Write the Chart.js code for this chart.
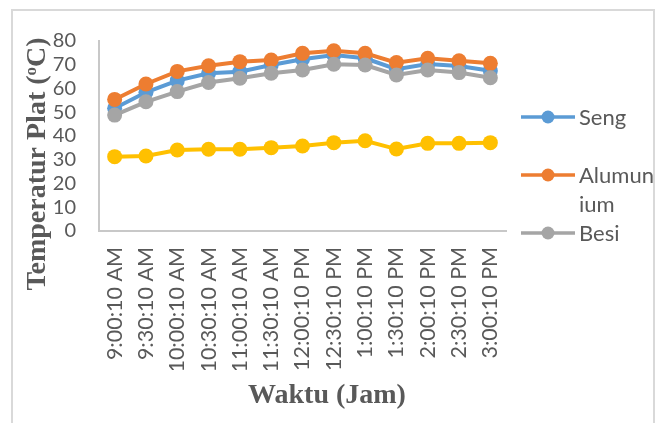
<!DOCTYPE html>
<html>
<head>
<meta charset="utf-8">
<script src="https://cdn.jsdelivr.net/npm/chart.js@4/dist/chart.umd.min.js"></script>
<style>
  html, body { margin: 0; padding: 0; background: #ffffff; }
  #wrap { position: relative; width: 666px; height: 423px; overflow: hidden; }
  #frame { position: absolute; left: 11px; top: 9px; width: 644px; height: 440px;
           border: 2px solid #d9d9d9; box-sizing: border-box; }
  canvas { position: absolute; left: 0; top: 0; }
</style>
</head>
<body>
<div id="wrap">
  <div id="frame"></div>
  <canvas id="c" width="666" height="423"></canvas>
</div>
<script>
// Sampling times (every 30 minutes)
const waktu = ['9:00:10 AM', '9:30:10 AM', '10:00:10 AM', '10:30:10 AM', '11:00:10 AM',
  '11:30:10 AM', '12:00:10 PM', '12:30:10 PM', '1:00:10 PM', '1:30:10 PM',
  '2:00:10 PM', '2:30:10 PM', '3:00:10 PM'];

// Plate temperatures (°C)
const seng      = [51.7, 58.4, 63.3, 66.4, 67.1, 69.9, 72.3, 74.1, 72.7, 68.1, 70.3, 69.5, 67.5];
const alumunium = [55.4, 61.9, 67.2, 69.6, 71.3, 72.0, 74.8, 75.9, 74.8, 70.9, 72.7, 71.7, 70.6];
const besi      = [48.8, 54.4, 58.7, 62.5, 64.3, 66.4, 67.8, 70.2, 69.9, 65.7, 67.8, 66.7, 64.5];
const lingkungan = [31.3, 31.6, 34.1, 34.4, 34.4, 35.1, 35.8, 37.2, 38.0, 34.5, 36.9, 36.9, 37.2];

// Y axis tick values
const yTicks = [0, 10, 20, 30, 40, 50, 60, 70, 80];

const TEXT = '#595959';
const AXIS = '#c8c8c8';

function series(label, data, color, order) {
  return {
    label, data, order,
    borderColor: color, backgroundColor: color,
    pointBackgroundColor: color, pointBorderColor: color,
    borderWidth: 4, pointRadius: 7.5, pointHoverRadius: 7.5, pointBorderWidth: 0,
    tension: 0, fill: false
  };
}

// Clip x tick labels to the text box below the axis
const labelClip = {
  id: 'labelClip',
  beforeDraw(chart) {
    const ctx = chart.ctx;
    ctx.save();
    ctx.beginPath();
    ctx.rect(0, 0, chart.width, 370);
    ctx.clip();
  },
  beforeDatasetsDraw(chart) {
    chart.ctx.restore();
  }
};

// Axis titles and the side legend
const decorations = {
  id: 'decorations',
  afterDraw(chart) {
    const ctx = chart.ctx;
    ctx.save();
    ctx.fillStyle = TEXT;

    // X title
    ctx.font = 'bold 28px "Liberation Serif"';
    ctx.textAlign = 'center';
    ctx.textBaseline = 'middle';
    ctx.fillText('Waktu (Jam)', 327, 396);

    // Y title, rotated, with superscript degree "o"
    const big = 'bold 28px "Liberation Serif"';
    const small = 'bold 17px "Liberation Serif"';
    const p1 = 'Temperatur Plat (', p2 = 'o', p3 = 'C)';
    ctx.font = big;
    const w1 = ctx.measureText(p1).width, w3 = ctx.measureText(p3).width;
    ctx.font = small;
    const w2 = ctx.measureText(p2).width;
    const total = w1 + w2 + w3;
    ctx.translate(45, 164);
    ctx.rotate(-Math.PI / 2);
    ctx.textAlign = 'left';
    ctx.textBaseline = 'alphabetic';
    let x = -total / 2;
    ctx.font = big; ctx.fillText(p1, x, 0); x += w1;
    ctx.font = small; ctx.fillText(p2, x, -9); x += w2;
    ctx.font = big; ctx.fillText(p3, x, 0);
    ctx.restore();

    // Legend
    ctx.save();
    ctx.font = '22px Lato';
    ctx.textAlign = 'left';
    ctx.textBaseline = 'middle';
    const entries = [
      { ds: 0, lines: ['Seng'], y: 117 },
      { ds: 1, lines: ['Alumun', 'ium'], y: 175 },
      { ds: 2, lines: ['Besi'], y: 233 }
    ];
    entries.forEach(e => {
      const d = chart.data.datasets[e.ds];
      ctx.strokeStyle = d.borderColor;
      ctx.lineWidth = 3.5;
      ctx.beginPath();
      ctx.moveTo(521, e.y);
      ctx.lineTo(575, e.y);
      ctx.stroke();
      ctx.fillStyle = d.borderColor;
      ctx.beginPath();
      ctx.arc(548, e.y, 6.5, 0, Math.PI * 2);
      ctx.fill();
      ctx.fillStyle = TEXT;
      e.lines.forEach((t, i) => ctx.fillText(t, 579, e.y + 1 + i * 29));
    });
    ctx.restore();
  }
};

new Chart(document.getElementById('c'), {
  type: 'line',
  data: {
    labels: waktu,
    datasets: [
      series('Seng', seng, '#5B9BD5', 4),
      series('Alumunium', alumunium, '#ED7D31', 3),
      series('Besi', besi, '#A5A5A5', 2),
      series('Lingkungan', lingkungan, '#FFC000', 1)
    ]
  },
  options: {
    responsive: false,
    animation: false,
    events: [],
    layout: { padding: { left: 0, top: 41, right: 160, bottom: 0 } },
    plugins: { legend: { display: false }, tooltip: { enabled: false } },
    scales: {
      x: {
        type: 'category',
        offset: true,
        grid: { display: false, drawTicks: false },
        border: { display: true, color: AXIS, width: 2 },
        ticks: {
          color: TEXT, font: { family: 'Lato', size: 21.5 },
          minRotation: 90, maxRotation: 90, autoSkip: false, padding: 16
        },
        afterFit(s) { s.height = 192; }
      },
      y: {
        min: 0, max: 80,
        grid: { display: false, drawTicks: false },
        border: { display: true, color: AXIS, width: 2 },
        ticks: { color: TEXT, font: { family: 'Lato', size: 20 }, padding: 23, autoSkip: false },
        afterBuildTicks(s) { s.ticks = yTicks.map(v => ({ value: v })); },
        afterFit(s) { s.width = 99; }
      }
    }
  },
  plugins: [labelClip, decorations]
});
</script>
</body>
</html>
